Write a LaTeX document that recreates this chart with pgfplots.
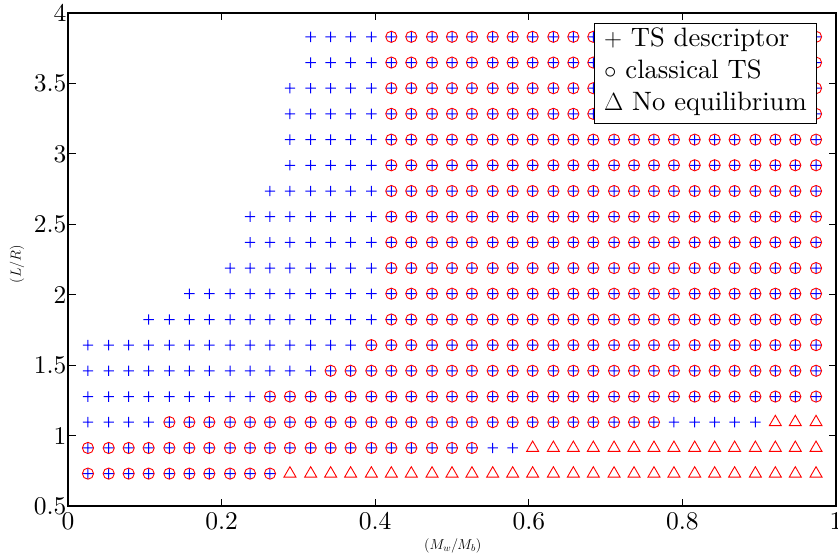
\documentclass[border=0pt]{standalone}
\usepackage{pgfplots}
\usepackage{pgfplotstable}
\pgfplotsset{compat=1.18}
\DeclareFontFamily{TU}{lmrten}{}
\DeclareFontShape{TU}{lmrten}{m}{n}{<-> "[lmroman10-regular]"}{}
\newcommand\lmten{\fontencoding{TU}\fontfamily{lmrten}\fontseries{m}\fontshape{n}\selectfont}
\pgfdeclareplotmark{plusf}{%
  \pgfpathrectangle{\pgfqpoint{-5.2pt}{-0.5pt}}{\pgfqpoint{10.4pt}{1pt}}%
  \pgfpathrectangle{\pgfqpoint{-0.5pt}{-5.2pt}}{\pgfqpoint{1pt}{10.4pt}}%
  \pgfusepathqfill
}
% c = 0: TS descriptor only, 1: TS descriptor and classical TS, 2: no equilibrium
\pgfplotstableread{
x y c
0.026 0.730 1
0.053 0.730 1
0.079 0.730 1
0.105 0.730 1
0.132 0.730 1
0.158 0.730 1
0.184 0.730 1
0.211 0.730 1
0.237 0.730 1
0.263 0.730 1
0.289 0.730 2
0.316 0.730 2
0.342 0.730 2
0.368 0.730 2
0.395 0.730 2
0.421 0.730 2
0.447 0.730 2
0.474 0.730 2
0.500 0.730 2
0.526 0.730 2
0.553 0.730 2
0.579 0.730 2
0.605 0.730 2
0.632 0.730 2
0.658 0.730 2
0.684 0.730 2
0.711 0.730 2
0.737 0.730 2
0.763 0.730 2
0.789 0.730 2
0.816 0.730 2
0.842 0.730 2
0.868 0.730 2
0.895 0.730 2
0.921 0.730 2
0.947 0.730 2
0.974 0.730 2
0.026 0.912 1
0.053 0.912 1
0.079 0.912 1
0.105 0.912 1
0.132 0.912 1
0.158 0.912 1
0.184 0.912 1
0.211 0.912 1
0.237 0.912 1
0.263 0.912 1
0.289 0.912 1
0.316 0.912 1
0.342 0.912 1
0.368 0.912 1
0.395 0.912 1
0.421 0.912 1
0.447 0.912 1
0.474 0.912 1
0.500 0.912 1
0.526 0.912 1
0.553 0.912 0
0.579 0.912 0
0.605 0.912 2
0.632 0.912 2
0.658 0.912 2
0.684 0.912 2
0.711 0.912 2
0.737 0.912 2
0.763 0.912 2
0.789 0.912 2
0.816 0.912 2
0.842 0.912 2
0.868 0.912 2
0.895 0.912 2
0.921 0.912 2
0.947 0.912 2
0.974 0.912 2
0.026 1.095 0
0.053 1.095 0
0.079 1.095 0
0.105 1.095 0
0.132 1.095 1
0.158 1.095 1
0.184 1.095 1
0.211 1.095 1
0.237 1.095 1
0.263 1.095 1
0.289 1.095 1
0.316 1.095 1
0.342 1.095 1
0.368 1.095 1
0.395 1.095 1
0.421 1.095 1
0.447 1.095 1
0.474 1.095 1
0.500 1.095 1
0.526 1.095 1
0.553 1.095 1
0.579 1.095 1
0.605 1.095 1
0.632 1.095 1
0.658 1.095 1
0.684 1.095 1
0.711 1.095 1
0.737 1.095 1
0.763 1.095 1
0.789 1.095 0
0.816 1.095 0
0.842 1.095 0
0.868 1.095 0
0.895 1.095 0
0.921 1.095 2
0.947 1.095 2
0.974 1.095 2
0.026 1.277 0
0.053 1.277 0
0.079 1.277 0
0.105 1.277 0
0.132 1.277 0
0.158 1.277 0
0.184 1.277 0
0.211 1.277 0
0.237 1.277 0
0.263 1.277 1
0.289 1.277 1
0.316 1.277 1
0.342 1.277 1
0.368 1.277 1
0.395 1.277 1
0.421 1.277 1
0.447 1.277 1
0.474 1.277 1
0.500 1.277 1
0.526 1.277 1
0.553 1.277 1
0.579 1.277 1
0.605 1.277 1
0.632 1.277 1
0.658 1.277 1
0.684 1.277 1
0.711 1.277 1
0.737 1.277 1
0.763 1.277 1
0.789 1.277 1
0.816 1.277 1
0.842 1.277 1
0.868 1.277 1
0.895 1.277 1
0.921 1.277 1
0.947 1.277 1
0.974 1.277 1
0.026 1.460 0
0.053 1.460 0
0.079 1.460 0
0.105 1.460 0
0.132 1.460 0
0.158 1.460 0
0.184 1.460 0
0.211 1.460 0
0.237 1.460 0
0.263 1.460 0
0.289 1.460 0
0.316 1.460 0
0.342 1.460 1
0.368 1.460 1
0.395 1.460 1
0.421 1.460 1
0.447 1.460 1
0.474 1.460 1
0.500 1.460 1
0.526 1.460 1
0.553 1.460 1
0.579 1.460 1
0.605 1.460 1
0.632 1.460 1
0.658 1.460 1
0.684 1.460 1
0.711 1.460 1
0.737 1.460 1
0.763 1.460 1
0.789 1.460 1
0.816 1.460 1
0.842 1.460 1
0.868 1.460 1
0.895 1.460 1
0.921 1.460 1
0.947 1.460 1
0.974 1.460 1
0.026 1.642 0
0.053 1.642 0
0.079 1.642 0
0.105 1.642 0
0.132 1.642 0
0.158 1.642 0
0.184 1.642 0
0.211 1.642 0
0.237 1.642 0
0.263 1.642 0
0.289 1.642 0
0.316 1.642 0
0.342 1.642 0
0.368 1.642 0
0.395 1.642 1
0.421 1.642 1
0.447 1.642 1
0.474 1.642 1
0.500 1.642 1
0.526 1.642 1
0.553 1.642 1
0.579 1.642 1
0.605 1.642 1
0.632 1.642 1
0.658 1.642 1
0.684 1.642 1
0.711 1.642 1
0.737 1.642 1
0.763 1.642 1
0.789 1.642 1
0.816 1.642 1
0.842 1.642 1
0.868 1.642 1
0.895 1.642 1
0.921 1.642 1
0.947 1.642 1
0.974 1.642 1
0.105 1.824 0
0.132 1.824 0
0.158 1.824 0
0.184 1.824 0
0.211 1.824 0
0.237 1.824 0
0.263 1.824 0
0.289 1.824 0
0.316 1.824 0
0.342 1.824 0
0.368 1.824 0
0.395 1.824 0
0.421 1.824 1
0.447 1.824 1
0.474 1.824 1
0.500 1.824 1
0.526 1.824 1
0.553 1.824 1
0.579 1.824 1
0.605 1.824 1
0.632 1.824 1
0.658 1.824 1
0.684 1.824 1
0.711 1.824 1
0.737 1.824 1
0.763 1.824 1
0.789 1.824 1
0.816 1.824 1
0.842 1.824 1
0.868 1.824 1
0.895 1.824 1
0.921 1.824 1
0.947 1.824 1
0.974 1.824 1
0.158 2.007 0
0.184 2.007 0
0.211 2.007 0
0.237 2.007 0
0.263 2.007 0
0.289 2.007 0
0.316 2.007 0
0.342 2.007 0
0.368 2.007 0
0.395 2.007 0
0.421 2.007 1
0.447 2.007 1
0.474 2.007 1
0.500 2.007 1
0.526 2.007 1
0.553 2.007 1
0.579 2.007 1
0.605 2.007 1
0.632 2.007 1
0.658 2.007 1
0.684 2.007 1
0.711 2.007 1
0.737 2.007 1
0.763 2.007 1
0.789 2.007 1
0.816 2.007 1
0.842 2.007 1
0.868 2.007 1
0.895 2.007 1
0.921 2.007 1
0.947 2.007 1
0.974 2.007 1
0.211 2.189 0
0.237 2.189 0
0.263 2.189 0
0.289 2.189 0
0.316 2.189 0
0.342 2.189 0
0.368 2.189 0
0.395 2.189 0
0.421 2.189 1
0.447 2.189 1
0.474 2.189 1
0.500 2.189 1
0.526 2.189 1
0.553 2.189 1
0.579 2.189 1
0.605 2.189 1
0.632 2.189 1
0.658 2.189 1
0.684 2.189 1
0.711 2.189 1
0.737 2.189 1
0.763 2.189 1
0.789 2.189 1
0.816 2.189 1
0.842 2.189 1
0.868 2.189 1
0.895 2.189 1
0.921 2.189 1
0.947 2.189 1
0.974 2.189 1
0.237 2.372 0
0.263 2.372 0
0.289 2.372 0
0.316 2.372 0
0.342 2.372 0
0.368 2.372 0
0.395 2.372 0
0.421 2.372 1
0.447 2.372 1
0.474 2.372 1
0.500 2.372 1
0.526 2.372 1
0.553 2.372 1
0.579 2.372 1
0.605 2.372 1
0.632 2.372 1
0.658 2.372 1
0.684 2.372 1
0.711 2.372 1
0.737 2.372 1
0.763 2.372 1
0.789 2.372 1
0.816 2.372 1
0.842 2.372 1
0.868 2.372 1
0.895 2.372 1
0.921 2.372 1
0.947 2.372 1
0.974 2.372 1
0.237 2.554 0
0.263 2.554 0
0.289 2.554 0
0.316 2.554 0
0.342 2.554 0
0.368 2.554 0
0.395 2.554 0
0.421 2.554 1
0.447 2.554 1
0.474 2.554 1
0.500 2.554 1
0.526 2.554 1
0.553 2.554 1
0.579 2.554 1
0.605 2.554 1
0.632 2.554 1
0.658 2.554 1
0.684 2.554 1
0.711 2.554 1
0.737 2.554 1
0.763 2.554 1
0.789 2.554 1
0.816 2.554 1
0.842 2.554 1
0.868 2.554 1
0.895 2.554 1
0.921 2.554 1
0.947 2.554 1
0.974 2.554 1
0.263 2.736 0
0.289 2.736 0
0.316 2.736 0
0.342 2.736 0
0.368 2.736 0
0.395 2.736 0
0.421 2.736 1
0.447 2.736 1
0.474 2.736 1
0.500 2.736 1
0.526 2.736 1
0.553 2.736 1
0.579 2.736 1
0.605 2.736 1
0.632 2.736 1
0.658 2.736 1
0.684 2.736 1
0.711 2.736 1
0.737 2.736 1
0.763 2.736 1
0.789 2.736 1
0.816 2.736 1
0.842 2.736 1
0.868 2.736 1
0.895 2.736 1
0.921 2.736 1
0.947 2.736 1
0.974 2.736 1
0.289 2.919 0
0.316 2.919 0
0.342 2.919 0
0.368 2.919 0
0.395 2.919 0
0.421 2.919 1
0.447 2.919 1
0.474 2.919 1
0.500 2.919 1
0.526 2.919 1
0.553 2.919 1
0.579 2.919 1
0.605 2.919 1
0.632 2.919 1
0.658 2.919 1
0.684 2.919 1
0.711 2.919 1
0.737 2.919 1
0.763 2.919 1
0.789 2.919 1
0.816 2.919 1
0.842 2.919 1
0.868 2.919 1
0.895 2.919 1
0.921 2.919 1
0.947 2.919 1
0.974 2.919 1
0.289 3.101 0
0.316 3.101 0
0.342 3.101 0
0.368 3.101 0
0.395 3.101 0
0.421 3.101 1
0.447 3.101 1
0.474 3.101 1
0.500 3.101 1
0.526 3.101 1
0.553 3.101 1
0.579 3.101 1
0.605 3.101 1
0.632 3.101 1
0.658 3.101 1
0.684 3.101 1
0.711 3.101 1
0.737 3.101 1
0.763 3.101 1
0.789 3.101 1
0.816 3.101 1
0.842 3.101 1
0.868 3.101 1
0.895 3.101 1
0.921 3.101 1
0.947 3.101 1
0.974 3.101 1
0.289 3.284 0
0.316 3.284 0
0.342 3.284 0
0.368 3.284 0
0.395 3.284 0
0.421 3.284 1
0.447 3.284 1
0.474 3.284 1
0.500 3.284 1
0.526 3.284 1
0.553 3.284 1
0.579 3.284 1
0.605 3.284 1
0.632 3.284 1
0.658 3.284 1
0.684 3.284 1
0.711 3.284 1
0.737 3.284 1
0.763 3.284 1
0.789 3.284 1
0.816 3.284 1
0.842 3.284 1
0.868 3.284 1
0.895 3.284 1
0.921 3.284 1
0.947 3.284 1
0.974 3.284 1
0.289 3.466 0
0.316 3.466 0
0.342 3.466 0
0.368 3.466 0
0.395 3.466 0
0.421 3.466 1
0.447 3.466 1
0.474 3.466 1
0.500 3.466 1
0.526 3.466 1
0.553 3.466 1
0.579 3.466 1
0.605 3.466 1
0.632 3.466 1
0.658 3.466 1
0.684 3.466 1
0.711 3.466 1
0.737 3.466 1
0.763 3.466 1
0.789 3.466 1
0.816 3.466 1
0.842 3.466 1
0.868 3.466 1
0.895 3.466 1
0.921 3.466 1
0.947 3.466 1
0.974 3.466 1
0.316 3.648 0
0.342 3.648 0
0.368 3.648 0
0.395 3.648 0
0.421 3.648 1
0.447 3.648 1
0.474 3.648 1
0.500 3.648 1
0.526 3.648 1
0.553 3.648 1
0.579 3.648 1
0.605 3.648 1
0.632 3.648 1
0.658 3.648 1
0.684 3.648 1
0.711 3.648 1
0.737 3.648 1
0.763 3.648 1
0.789 3.648 1
0.816 3.648 1
0.842 3.648 1
0.868 3.648 1
0.895 3.648 1
0.921 3.648 1
0.947 3.648 1
0.974 3.648 1
0.316 3.831 0
0.342 3.831 0
0.368 3.831 0
0.395 3.831 0
0.421 3.831 1
0.447 3.831 1
0.474 3.831 1
0.500 3.831 1
0.526 3.831 1
0.553 3.831 1
0.579 3.831 1
0.605 3.831 1
0.632 3.831 1
0.658 3.831 1
0.684 3.831 1
0.711 3.831 1
0.737 3.831 1
0.763 3.831 1
0.789 3.831 1
0.816 3.831 1
0.842 3.831 1
0.868 3.831 1
0.895 3.831 1
0.921 3.831 1
0.947 3.831 1
0.974 3.831 1
}\griddata
\begin{document}
\begin{tikzpicture}
\useasboundingbox (0,0) rectangle (838pt,555pt);
\begin{axis}[
  at={(68pt,49pt)}, anchor=south west,
  scale only axis, width=768pt, height=493pt,
  xmin=0, xmax=1, ymin=0.5, ymax=4,
  xtick={0,0.2,0.4,0.6,0.8,1},
  xticklabels={0,0.2,0.4,0.6,0.8,1},
  ytick={0.5,1,1.5,2,2.5,3,3.5,4},
  yticklabels={0.5,1,1.5,2,2.5,3,3.5,4},
  tick align=inside, xtick pos=both, ytick pos=both,
  major tick length=7.5pt,
  every tick/.style={black, line width=0.9pt},
  axis line style={line width=1.2pt, black},
  ticklabel style={font=\fontsize{25.5}{31}\lmten},
  xticklabel style={yshift=-3pt},
  yticklabel style={xshift=2pt},
  xlabel={$(M_w/M_b)$},
  ylabel={$(L/R)$},
  xlabel style={at={(axis description cs:0.501,-0.0811)}, anchor=center, font=\fontsize{14}{16}\selectfont},
  ylabel style={at={(axis description cs:-0.0664,0.491)}, anchor=center, font=\fontsize{14}{16}\selectfont},
  legend cell align=left,
  legend style={at={(axis description cs:0.975,0.980)}, anchor=north east,
    draw=black, line width=0.8pt, fill=white,
    font=\fontsize{26.6}{32}\lmten, inner xsep=1pt, inner ysep=2pt,
    nodes={inner xsep=8.7pt, inner ysep=3.5pt, text height=17.5pt, text depth=7.7pt}},
]
\addplot[forget plot, only marks, mark=plusf, draw=none, fill=blue,
  mark options={draw=none, fill=blue},
  restrict expr to domain={\thisrow{c}}{0:1}]
  table[x=x, y=y] {\griddata};
\addplot[forget plot, only marks, mark=o, red, line width=0.9pt, mark size=5.6pt,
  restrict expr to domain={\thisrow{c}}{1:1}]
  table[x=x, y=y] {\griddata};
\addplot[forget plot, only marks, mark=triangle, red, line width=0.9pt, mark size=6.9pt,
  restrict expr to domain={\thisrow{c}}{2:2}]
  table[x=x, y=y] {\griddata};
\addlegendimage{empty legend}
\addlegendentry{$+$ TS descriptor}
\addlegendimage{empty legend}
\addlegendentry{$\circ$ classical TS}
\addlegendimage{empty legend}
\addlegendentry{$\Delta$ No equilibrium}
\end{axis}
\end{tikzpicture}
\end{document}
